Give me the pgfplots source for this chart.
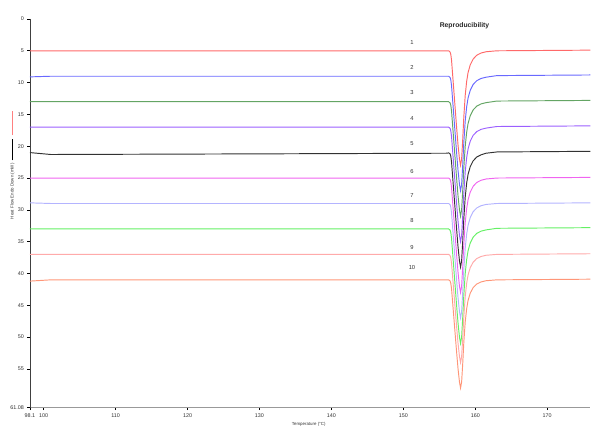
\documentclass[border=0pt]{standalone}
\usepackage{fontspec}
\setmainfont{Liberation Sans}
\usepackage{pgfplots}
\usepackage{pgfplotstable}
\pgfplotsset{compat=1.18}
\definecolor{c1}{RGB}{255,105,105}
\definecolor{c2}{RGB}{105,105,255}
\definecolor{c3}{RGB}{100,165,100}
\definecolor{c4}{RGB}{155,95,255}
\definecolor{c5}{RGB}{50,50,50}
\definecolor{c6}{RGB}{240,100,240}
\definecolor{c7}{RGB}{180,180,255}
\definecolor{c8}{RGB}{100,240,100}
\definecolor{c9}{RGB}{255,170,170}
\definecolor{c10}{RGB}{255,150,120}
\pgfplotstableread{
x s1 s2 s3 s4 s5 s6 s7 s8 s9 s10
98.1 5 9.1 13 17 21.0 25 28.9 33 37 41.2
101 5 9 13 17 21.3 25 29 33 37 41.0
130 5 9 13 17 21.2 25 29 33 37 41
156.0 5 9 13 17 21.1 25 29 33 37 41
156.3 5 9 13 17 21.05 25 29 33 37 41
156.5 5.2 9.2 13.2 17.2 21.2 25.2 29.2 33.2 37.19 41.19
156.6 5.6 9.6 13.6 17.6 21.6 25.6 29.6 33.6 37.57 41.57
156.7 6.5 10.5 14.5 18.5 22.5 26.5 30.5 34.5 38.42 42.42
156.8 8 12 16 20 24 28 32 36 39.83 43.83
157.0 11 15 19 23 27 31 35 39 42.66 46.66
157.2 14 18 22 26 30 34 38 42 45.5 49.5
157.4 17 21 25 29 33 37 41 45 48.33 52.33
157.6 19.8 23.8 27.8 31.8 35.8 39.8 43.8 47.8 50.97 54.97
157.8 22 26 30 34 38 42 46 50 53.05 57.05
157.95 23 27 31 35 39 43 47 51 54 58
158.1 22 26 30 34 38 42 46 50 53.05 57.05
158.25 19 23 27 31 35 39 43 47 50.22 54.22
158.4 15.5 19.5 23.5 27.5 31.5 35.5 39.5 43.5 46.91 50.91
158.6 12 16 20 24 28 32 36 40 43.61 47.61
158.8 9.8 13.8 17.8 21.8 25.8 29.8 33.8 37.8 41.53 45.53
159.0 8.4 12.4 16.4 20.4 24.4 28.4 32.4 36.4 40.21 44.21
159.3 7.2 11.2 15.2 19.2 23.2 27.2 31.2 35.2 39.08 43.08
159.7 6.3 10.3 14.3 18.3 22.3 26.3 30.3 34.3 38.23 42.23
160.2 5.7 9.7 13.7 17.7 21.7 25.7 29.7 33.7 37.66 41.66
160.8 5.35 9.35 13.35 17.35 21.35 25.35 29.35 33.35 37.33 41.33
161.5 5.15 9.15 13.15 17.15 21.1 25.15 29.15 33.15 37.14 41.14
163 5.0 8.9 12.9 16.9 20.9 25.0 29.0 32.9 37.0 41.0
176 4.9 8.8 12.8 16.8 20.8 24.9 28.9 32.8 36.9 40.9
}\peaks
\begin{document}
\begin{tikzpicture}
\begin{axis}[
  name=ax,
  scale only axis,
  width=561pt, height=389pt,
  xmin=98.1, xmax=176,
  ymin=0, ymax=61.08,
  y dir=reverse,
  axis x line=bottom, axis y line=left,
  x axis line style={-, draw=gray!80, line width=1.2pt},
  y axis line style={-, draw=black!75, line width=0.8pt},
  tick align=outside,
  major tick length=2.5pt,
  tick style={black, line width=0.6pt},
  xtick={98.1,100,110,120,130,140,150,160,170},
  xticklabels={98.1,100,110,120,130,140,150,160,170},
  ytick={0,5,10,15,20,25,30,35,40,45,50,55,61.08},
  yticklabels={0,5,10,15,20,25,30,35,40,45,50,55,61.08},
  /pgf/number format/assume math mode=true,
  ticklabel style={font=\fontsize{5.4}{6}\selectfont, text=black!80},
  clip=false,
  every axis plot/.append style={line width=0.95pt, no markers},
]
\addplot[c1] table[x=x,y=s1]{\peaks};
\addplot[c2] table[x=x,y=s2]{\peaks};
\addplot[c3] table[x=x,y=s3]{\peaks};
\addplot[c4] table[x=x,y=s4]{\peaks};
\addplot[c5] table[x=x,y=s5]{\peaks};
\addplot[c6] table[x=x,y=s6]{\peaks};
\addplot[c7] table[x=x,y=s7]{\peaks};
\addplot[c8] table[x=x,y=s8]{\peaks};
\addplot[c9] table[x=x,y=s9]{\peaks};
\addplot[c10] table[x=x,y=s10]{\peaks};
\node[font=\bfseries\fontsize{6.8}{7}\selectfont, text=black!85] at (axis cs:158.5,1.05) {Reproducibility};
\begin{scope}[every node/.style={font=\fontsize{5.8}{6}\selectfont, text=black!80}]
\node at (axis cs:151.2,3.66) {1};
\node at (axis cs:151.2,7.7) {2};
\node at (axis cs:151.2,11.6) {3};
\node at (axis cs:151.2,15.7) {4};
\node at (axis cs:151.2,19.5) {5};
\node at (axis cs:151.2,23.9) {6};
\node at (axis cs:151.2,27.8) {7};
\node at (axis cs:151.2,31.7) {8};
\node at (axis cs:151.2,35.9) {9};
\node at (axis cs:151.2,39.0) {10};
\end{scope}
\node[font=\fontsize{4.4}{5}\selectfont, text=black!80] at (axis cs:136.85,63.7) {Temperature (°C)};
\node[rotate=90, font=\fontsize{4.4}{5}\selectfont, text=black!80] at (axis cs:95.67,23) {Heat Flow Endo Down (mW)\hspace{3pt}\textcolor{black}{\rule[0.45ex]{21pt}{0.6pt}}\hspace{4pt}\textcolor{red!50}{\rule[0.45ex]{24pt}{0.6pt}}};
\end{axis}
\path[use as bounding box] ([xshift=-30pt,yshift=-22pt]ax.south west) rectangle ([yshift=19pt]ax.north east);
\end{tikzpicture}
\end{document}
